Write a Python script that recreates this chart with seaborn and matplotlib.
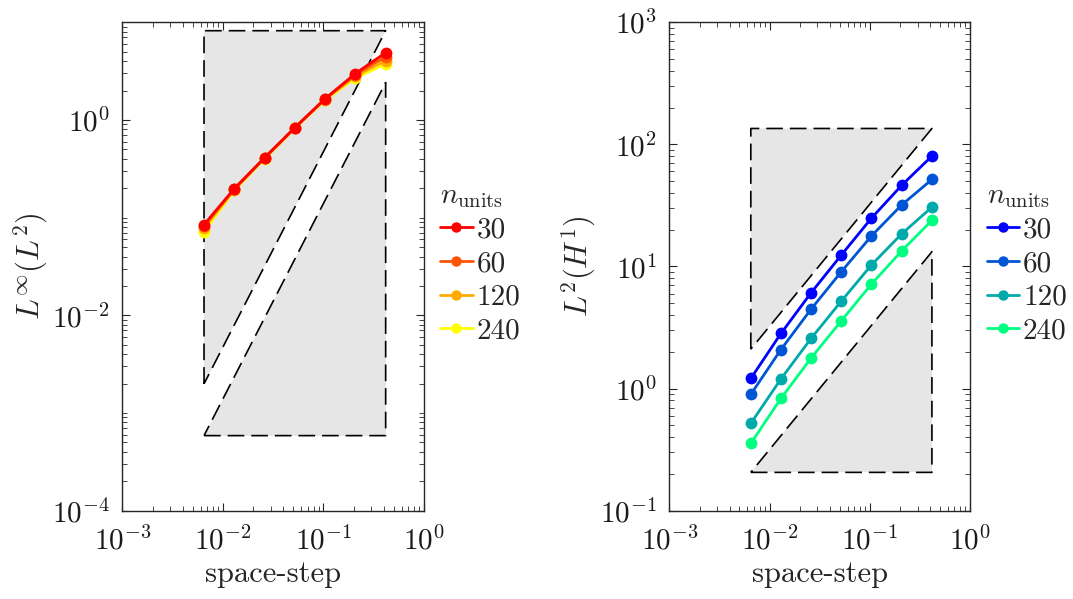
import numpy as np
import pandas as pd
import matplotlib
matplotlib.use("Agg")
import matplotlib.pyplot as plt
from matplotlib.lines import Line2D
from matplotlib.ticker import LogLocator, LogFormatterMathtext, NullFormatter
import seaborn as sns

# ---------------- data ----------------
space_step = [0.0065, 0.013, 0.026, 0.052, 0.104, 0.208, 0.417]
n_units = [30, 60, 120, 240]

linf_l2 = {
    30:  [0.0848, 0.198, 0.411, 0.834, 1.65, 2.98, 4.89],
    60:  [0.082, 0.196, 0.408, 0.830, 1.64, 2.90, 4.45],
    120: [0.078, 0.194, 0.405, 0.826, 1.62, 2.80, 4.05],
    240: [0.072, 0.190, 0.400, 0.820, 1.60, 2.68, 3.75],
}
l2_h1 = {
    30:  [1.21, 2.83, 6.10, 12.4, 24.9, 46.2, 80.2],
    60:  [0.897, 2.09, 4.48, 9.06, 17.8, 31.9, 51.6],
    120: [0.519, 1.20, 2.58, 5.20, 10.3, 18.5, 30.6],
    240: [0.356, 0.832, 1.78, 3.59, 7.18, 13.4, 23.9],
}
colors_left = ["#ff0000", "#ff5500", "#ffaa00", "#ffff00"]
colors_right = ["#0000ff", "#0055d4", "#00aaaa", "#00ff80"]

# reference slope triangles (x-extent, y values)
tri_x = [0.0065, 0.417]
left_upper_top, left_lower_bottom = 8.2, 5.87e-4      # slope 2
right_upper_top, right_lower_bottom = 135.0, 0.206    # slope 1

# ---------------- style ----------------
sns.set_style("ticks")
plt.rcParams.update({
    "mathtext.fontset": "cm",
    "font.family": ["cmr10", "DejaVu Sans"],
    "axes.formatter.use_mathtext": True,
    "xtick.direction": "in", "ytick.direction": "in",
    "xtick.top": True, "ytick.right": True,
    "xtick.major.size": 6, "ytick.major.size": 6,
    "xtick.minor.size": 3.5, "ytick.minor.size": 3.5,
    "xtick.minor.visible": True, "ytick.minor.visible": True,
    "axes.edgecolor": "#262626", "xtick.color": "#262626", "ytick.color": "#262626",
    "axes.linewidth": 1.0,
    "lines.scale_dashes": False,
})

FS = 21
fig = plt.figure(figsize=(10.73, 5.99), dpi=100)
ax1 = fig.add_axes([0.114, 0.1474, 0.281, 0.8154])
ax2 = fig.add_axes([0.6238, 0.1474, 0.2802, 0.8154])

gray = "#e6e6e6"
dash = (0, (12, 5))


def triangles(ax, top, bottom, slope):
    x1, x2 = tri_x
    ratio = (x2 / x1) ** slope
    up_lo = top / ratio
    lo_hi = bottom * ratio
    ax.fill([x1, x2, x1], [top, top, up_lo], color=gray, lw=0, zorder=0)
    ax.fill([x1, x2, x2], [bottom, bottom, lo_hi], color=gray, lw=0, zorder=0)
    ax.plot([x1, x1, x2, x1], [up_lo, top, top, up_lo], color="black", lw=1.2, ls=dash, zorder=1)
    ax.plot([x1, x2, x2, x1], [bottom, bottom, lo_hi, bottom], color="black", lw=1.2, ls=dash, zorder=1)


def draw(ax, data, colors, ylim, ybase, ylabel):
    rows = []
    for n in n_units:
        for x, y in zip(space_step, data[n]):
            rows.append({"h": x, "err": y, "n": str(n)})
    df = pd.DataFrame(rows)
    sns.lineplot(data=df, x="h", y="err", hue="n", hue_order=[str(n) for n in n_units],
                 palette=colors, marker="o", markersize=8.5, markeredgewidth=0,
                 linewidth=2, legend=False, ax=ax, zorder=5)
    # first series on top
    lines = [l for l in ax.lines if l.get_linestyle() == "-"][-len(n_units):]
    for i, l in enumerate(lines):
        l.set_zorder(10 - i)
    ax.set_xscale("log")
    ax.set_yscale("log")
    ax.set_xlim(1e-3, 1)
    ax.set_ylim(*ylim)
    ax.xaxis.set_major_locator(LogLocator(base=10, numticks=10))
    ax.xaxis.set_minor_locator(LogLocator(base=10, subs=np.arange(1, 10), numticks=50))
    ax.yaxis.set_major_locator(LogLocator(base=ybase, numticks=10))
    ax.yaxis.set_minor_locator(LogLocator(base=10, subs=np.arange(1, 10), numticks=50))
    ax.xaxis.set_major_formatter(LogFormatterMathtext())
    ax.yaxis.set_major_formatter(LogFormatterMathtext())
    ax.xaxis.set_minor_formatter(NullFormatter())
    ax.yaxis.set_minor_formatter(NullFormatter())
    ax.tick_params(axis="x", labelsize=FS, pad=11, labelcolor="#1a1a1a")
    ax.tick_params(axis="y", labelsize=FS, pad=9, labelcolor="#1a1a1a")
    ax.set_xlabel("space-step", fontsize=FS + 1, labelpad=4)
    ax.set_ylabel(ylabel, fontsize=FS + 1, labelpad=1)
    for s in ax.spines.values():
        s.set_visible(True)
    handles = [Line2D([], [], color=c, marker="o", markersize=7.5, lw=2, markeredgewidth=0)
               for c in colors]
    leg = ax.legend(handles, [str(n) for n in n_units], title=r"$n_{\mathrm{units}}$",
                    loc="upper left", bbox_to_anchor=(1.055, 0.672), frameon=False,
                    fontsize=FS, title_fontsize=FS, handlelength=1.1, handletextpad=0.15,
                    labelspacing=0.25, borderaxespad=0, borderpad=0)
    leg._legend_box.align = "left"


triangles(ax1, left_upper_top, left_lower_bottom, 2)
draw(ax1, linf_l2, colors_left, (1e-4, 1e1), 100, r"$L^{\infty}(L^2)$")
triangles(ax2, right_upper_top, right_lower_bottom, 1)
draw(ax2, l2_h1, colors_right, (1e-1, 1e3), 10, r"$L^{2}(H^1)$")

fig.savefig("out.png", dpi=100)
